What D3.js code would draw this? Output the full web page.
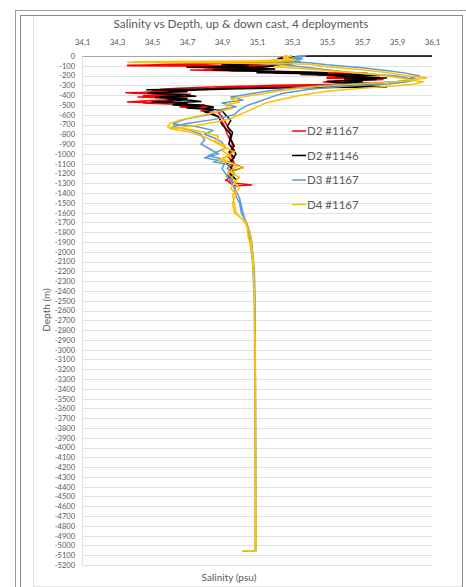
<!DOCTYPE html>
<html>
<head>
<meta charset="utf-8">
<script src="https://cdn.jsdelivr.net/npm/d3@7"></script>
<style>
  body { margin: 0; background: #fff; }
  text { font-family: Lato, "Open Sans", sans-serif; fill: #595959; }
</style>
</head>
<body>
<div id="graph"></div>
<script>
const margin = {top: 56, right: 34, bottom: 22, left: 82};
const width = 466, height = 587;

const xTicks = [34.1, 34.3, 34.5, 34.7, 34.9, 35.1, 35.3, 35.5, 35.7, 35.9, 36.1]
const yTicks = d3.range(0, -5201, -100)

// D2 #1167 (down then up)
const d2_1167_depth = [0,-15,-30,-45,-60,-75,-85,-100,-105,-115,-125,-135,-143,-152,-160,-170,-175,-185,-195,-205,-215,-228,-240,-250,-260,-266,-275,-285,-292,-300,-310,-320,-330,-340,-350,-360,-368,-375,-385,-395,-405,-420,-432,-445,-455,-470,-480,-490,-500,-510,-525,-540,-560,-580,-620,-680,-750,-820,-900,-960,-1020,-1080,-1150,-1220,-1270,-1300,-1318,-1325,
  -1290,-1240,-1180,-1100,-1000,-900,-800,-700,-620,-580,-560,-540,-520,-500,-480,-465,-450,-435,-420,-410,-400,-390,-380,-365,-350,-340,-330,-320,-310,-295,-280,-268,-255,-242,-230,-218,-205,-195,-185,-175,-165,-150,-135,-120,-110,-100,-95,-85,-70,-50,-30,-10,0]
const d2_1167_sal = [35.27,35.24,35.3,35.2,35.1,34.9,34.6,34.36,34.9,35.1,34.95,35.2,34.72,35.0,35.3,35.5,35.73,35.55,35.78,35.6,35.7,35.5,35.82,35.7,35.6,35.48,35.65,35.7,35.5,35.2,35.0,34.8,34.65,34.55,34.75,34.5,34.6,34.35,34.55,34.6,34.45,34.5,34.7,34.65,34.5,34.36,34.55,34.6,34.8,34.7,34.85,34.82,34.9,34.88,34.9,34.92,34.94,34.95,34.94,34.97,34.93,34.96,34.95,34.96,34.92,34.98,35.07,34.97,
  34.94,34.97,34.94,34.97,34.95,34.96,34.93,34.91,34.88,34.84,34.78,34.85,34.66,34.75,34.45,34.62,34.58,34.7,34.42,34.6,34.55,34.72,34.38,34.5,34.62,34.8,34.9,35.1,35.3,35.6,35.75,35.55,35.7,35.6,35.8,35.5,35.65,35.45,35.5,35.2,35.3,35.05,34.8,35.1,34.9,35.2,34.36,34.8,35.0,35.25,35.28,35.3,35.3]

// D2 #1146
const d2_1146_depth = [0,0,-10,-25,-45,-65,-80,-90,-105,-115,-122,-130,-140,-150,-160,-170,-182,-194,-210,-225,-235,-245,-258,-270,-280,-290,-300,-317,-325,-335,-345,-355,-365,-375,-385,-397,-410,-425,-440,-452,-465,-478,-490,-505,-520,-540,-560,-600,-660,-720,-780,-850,-920,-980,-1040,-1100,-1160,-1220,-1260,
  -1230,-1170,-1140,-1090,-1000,-900,-800,-700,-620,-570,-550,-530,-515,-500,-485,-470,-455,-440,-425,-410,-395,-380,-368,-355,-345,-335,-325,-315,-300,-285,-272,-260,-250,-240,-230,-220,-210,-200,-190,-180,-170,-160,-150,-140,-130,-120,-110,-100,-80,-60,-40,-20,0]
const d2_1146_sal = [36.1,35.4,35.28,35.22,35.3,35.1,35.15,34.9,35.05,34.7,35.0,35.2,35.1,34.95,35.3,35.5,35.4,35.8,35.6,35.84,35.65,35.7,35.5,35.55,35.7,35.8,35.6,35.84,35.3,34.9,34.47,34.65,34.7,34.5,34.55,34.68,34.75,34.55,34.6,34.72,34.78,34.62,34.68,34.8,34.85,34.8,34.9,34.92,34.95,34.93,34.96,34.95,34.97,34.94,34.97,34.93,34.96,34.95,34.98,
  34.93,34.97,35.02,34.95,34.98,34.94,34.95,34.9,34.88,34.8,34.86,34.7,34.78,34.62,34.7,34.5,34.66,34.7,34.52,34.58,34.7,34.48,34.62,34.6,34.8,35.0,35.3,35.5,35.75,35.82,35.6,35.7,35.6,35.78,35.6,35.8,35.55,35.6,35.35,35.45,35.1,35.2,35.0,34.85,35.1,35.0,35.15,35.2,35.3,35.25,35.22,35.27,35.3]

// D3 #1167
const d3_1167_depth = [0,-15,-30,-50,-70,-90,-120,-150,-175,-204,-220,-240,-260,-280,-300,-330,-360,-390,-420,-450,-480,-520,-560,-600,-640,-670,-695,-720,-760,-800,-840,-880,-940,-990,-1020,-1050,-1080,-1110,-1150,-1200,-1260,-1320,-1400,-1500,-1600,-1700,-1800,-1900,-2000,-2200,-2600,-3000,-3500,-4000,-4500,-5000,-5055,-5060,
  -5055,-4500,-3500,-2500,-2100,-1900,-1750,-1600,-1450,-1350,-1250,-1150,-1080,-1040,-1000,-950,-900,-860,-800,-760,-720,-690,-650,-600,-550,-500,-460,-420,-380,-340,-310,-285,-265,-245,-225,-205,-185,-160,-130,-100,-75,-55,-35,-15,0]
const d3_1167_sal = [35.35,35.3,35.36,35.15,35.4,35.5,35.7,35.85,35.95,36.03,35.98,36.01,35.9,35.7,35.5,35.3,35.15,35.05,34.95,35.02,34.9,34.98,34.85,34.82,34.7,34.65,34.62,34.75,34.85,34.8,34.86,34.9,34.92,34.86,34.82,34.9,34.85,34.95,34.93,34.97,34.95,34.98,34.97,35.0,35.01,35.04,35.06,35.07,35.075,35.085,35.09,35.09,35.092,35.093,35.094,35.095,35.095,35.02,
  35.09,35.09,35.088,35.085,35.075,35.06,35.045,35.02,35.0,34.97,34.94,34.9,34.92,34.8,34.88,34.83,34.78,34.8,34.78,34.72,34.62,34.7,34.85,34.97,35.0,35.05,35.12,35.18,35.25,35.4,35.6,35.85,35.95,36.0,35.96,35.9,35.75,35.6,35.45,35.3,35.1,35.35,35.3,35.33,35.38]

// D4 #1167
const d4_1167_depth = [0,-20,-40,-55,-65,-72,-85,-110,-140,-170,-200,-225,-240,-255,-275,-295,-320,-350,-380,-410,-440,-470,-500,-540,-580,-620,-660,-690,-725,-745,-780,-820,-870,-920,-970,-1020,-1060,-1100,-1140,-1190,-1240,-1290,-1350,-1420,-1500,-1600,-1700,-1800,-1950,-2100,-2400,-3000,-4000,-5000,-5055,-5058,
  -5052,-4000,-3000,-2300,-2000,-1850,-1700,-1600,-1500,-1420,-1350,-1280,-1200,-1120,-1050,-980,-900,-840,-780,-740,-710,-680,-640,-600,-560,-520,-480,-440,-400,-360,-330,-305,-285,-265,-245,-220,-195,-170,-140,-110,-80,-60,-50,-30,-10,0]
const d4_1167_sal = [35.3,35.25,35.32,35.2,34.36,35.0,35.4,35.5,35.7,35.85,35.95,36.07,36.0,35.95,35.8,35.6,35.4,35.25,35.15,35.05,34.95,35.0,34.92,34.95,34.85,34.75,34.65,34.6,34.59,34.7,34.8,34.88,34.86,34.92,34.9,34.95,34.88,34.96,35.02,34.95,35.0,34.97,35.0,34.96,34.97,34.98,35.03,35.06,35.07,35.08,35.085,35.09,35.092,35.095,35.095,35.02,
  35.09,35.09,35.088,35.083,35.07,35.05,35.04,34.97,34.96,34.98,34.95,34.98,34.93,34.99,34.9,34.97,34.88,34.82,34.72,34.6,34.75,34.85,34.95,35.0,35.05,35.1,35.15,35.25,35.35,35.5,35.7,35.9,36.0,36.05,35.98,35.9,35.8,35.65,35.45,35.2,35.3,34.4,35.1,35.3,35.25,35.28]

const series = [
  {name: "D2 #1167", color: "#FF0000", depth: d2_1167_depth, sal: d2_1167_sal},
  {name: "D2 #1146", color: "#000000", depth: d2_1146_depth, sal: d2_1146_sal},
  {name: "D3 #1167", color: "#5B9BD5", depth: d3_1167_depth, sal: d3_1167_sal},
  {name: "D4 #1167", color: "#FFC000", depth: d4_1167_depth, sal: d4_1167_sal}
]

var svg = d3.select("#graph")
  .append("svg")
    .attr("width", width)
    .attr("height", height)

// frames
svg.append("rect").attr("x", 15.5).attr("y", 10.5).attr("width", 452).attr("height", 580)
  .attr("fill", "none").attr("stroke", "#9a9a9a")
svg.append("rect").attr("x", 20.5).attr("y", 15.5).attr("width", 442).attr("height", 580)
  .attr("fill", "none").attr("stroke", "#8a8a8a")
svg.append("line").attr("x1", 33.5).attr("x2", 33.5).attr("y1", 16).attr("y2", 586)
  .attr("stroke", "#e3e3e3")
svg.append("line").attr("x1", 33).attr("x2", 462).attr("y1", 586.5).attr("y2", 586.5)
  .attr("stroke", "#e3e3e3")

const x = d3.scaleLinear()
  .domain([34.1, 36.1])
  .range([margin.left, width - margin.right])

const y = d3.scaleLinear()
  .domain([0, -5200])
  .range([margin.top, height - margin.bottom])

// gridlines
svg.append("g")
  .selectAll("line")
  .data(yTicks)
  .enter()
  .append("line")
    .attr("x1", x(34.1))
    .attr("x2", x(36.1))
    .attr("y1", d => Math.round(y(d)) + 0.5)
    .attr("y2", d => Math.round(y(d)) + 0.5)
    .attr("stroke", d => d == 0 ? "#a6a6a6" : "#e0e0e0")
    .attr("stroke-width", 1)

svg.append("line")
  .attr("x1", x(34.1) + 0.5).attr("x2", x(34.1) + 0.5)
  .attr("y1", y(0)).attr("y2", y(-5200))
  .attr("stroke", "#e0e0e0")

// axes
const xAxis = svg.append("g")
  .attr("transform", `translate(0, ${margin.top - 8})`)
  .call(d3.axisTop(x).tickValues(xTicks).tickSize(0).tickFormat(d => d3.format(".1f")(d).replace(".", ",")))
xAxis.select(".domain").remove()
xAxis.selectAll("text").style("font-size", "8px").style("fill", "#595959")

const yAxis = svg.append("g")
  .attr("transform", `translate(${margin.left - 7}, 0)`)
  .call(d3.axisLeft(y).tickValues(yTicks).tickSize(0).tickPadding(0))
yAxis.select(".domain").remove()
yAxis.selectAll("text").style("font-size", "7.5px").style("fill", "#595959")
  .text(d => d == 0 ? "0" : d3.format("d")(d).replace("−", "-"))

svg.append("defs").append("clipPath").attr("id", "plotclip")
  .append("rect")
    .attr("x", x(34.1)).attr("y", y(0) - 2)
    .attr("width", x(36.1) - x(34.1)).attr("height", y(-5200) - y(0) + 2)

const line = d3.line()
  .x(d => x(d[0]))
  .y(d => y(d[1]))

svg.append("g")
  .attr("clip-path", "url(#plotclip)")
  .selectAll("path")
  .data(series)
  .enter()
  .append("path")
    .attr("fill", "none")
    .attr("stroke", d => d.color)
    .attr("stroke-width", 1.5)
    .attr("stroke-linejoin", "round")
    .attr("d", d => line(d.sal.map((s, i) => [s, d.depth[i]])))

// legend
const legend = svg.append("g")
  .selectAll("g")
  .data(series)
  .enter()
  .append("g")
    .attr("transform", (d, i) => `translate(292, ${131 + i * 24.5})`)
legend.append("line")
  .attr("x1", 0).attr("x2", 14)
  .attr("stroke", d => d.color)
  .attr("stroke-width", 1.5)
legend.append("text")
  .attr("x", 15)
  .attr("dy", "0.36em")
  .style("font-size", "11.5px")
  .text(d => d.name)

// titles
svg.append("text")
  .attr("x", 241).attr("y", 28)
  .attr("text-anchor", "middle")
  .style("font-size", "11.8px")
  .text("Salinity vs Depth, up & down cast, 4 deployments")

svg.append("text")
  .attr("x", 229).attr("y", 581)
  .attr("text-anchor", "middle")
  .style("font-size", "10px")
  .text("Salinity (psu)")

svg.append("text")
  .attr("transform", "translate(50, 310) rotate(-90)")
  .attr("text-anchor", "middle")
  .style("font-size", "10px")
  .text("Depth (m)")
</script>
</body>
</html>
